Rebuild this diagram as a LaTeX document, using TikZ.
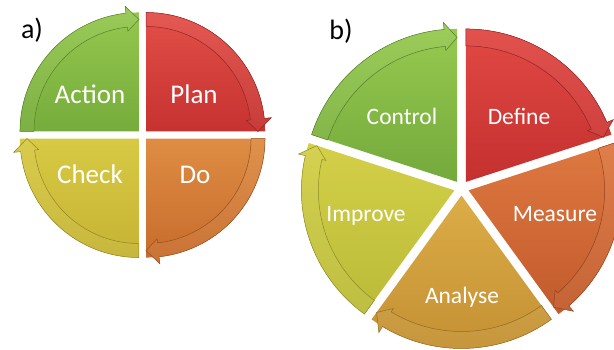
\documentclass[tikz,border=0pt]{standalone}
\usepackage{fontspec}
\setmainfont{Carlito}
\usepackage{tikz}
\usetikzlibrary{calc}

\definecolor{planTop}{HTML}{E5524B}
\definecolor{planBot}{HTML}{C3302E}
\definecolor{doTop}{HTML}{E08F45}
\definecolor{doBot}{HTML}{C66A2B}
\definecolor{checkTop}{HTML}{D9CB45}
\definecolor{checkBot}{HTML}{C4B232}
\definecolor{actTop}{HTML}{96C950}
\definecolor{actBot}{HTML}{74AA3A}
\definecolor{defineTop}{HTML}{E34A45}
\definecolor{defineBot}{HTML}{C22F2E}
\definecolor{measureTop}{HTML}{E07A42}
\definecolor{measureBot}{HTML}{C0592A}
\definecolor{analyseTop}{HTML}{DDAE48}
\definecolor{analyseBot}{HTML}{C38F32}
\definecolor{improveTop}{HTML}{D5D048}
\definecolor{improveBot}{HTML}{B9BA38}
\definecolor{controlTop}{HTML}{98CB51}
\definecolor{controlBot}{HTML}{72A83B}

\tikzset{
    caption/.style={text=black, anchor=base, font=\fontsize{28}{30}\selectfont},
    phase/.style={text=white, anchor=base, font=\fontsize{27}{30}\selectfont},
    phase small/.style={text=white, anchor=base, font=\fontsize{23.5}{26}\selectfont},
    % one vertical gradient per sector, shared by its arrow band
    sector fill/.style={path picture={
        \shade[top color=\ctop, bottom color=\cbot] (-200,\yBot) rectangle (200,\yTop);
        \fill[white, fill opacity=#1] (-200,\yBot) rectangle (200,\yTop);}}
}

\begin{document}
\begin{tikzpicture}[x=1pt, y=1pt]
        \useasboundingbox (0,0) rectangle (614,349);
        \clip (0,0) rectangle (614,349);
        \coordinate (pdca) at (142.5,214);
        \coordinate (dmaic) at (461.5,161);

        % sectors with their clockwise arrow bands
        \foreach \cen/\off/\from/\to/\rad/\band/\ctop/\cbot in {
            pdca/5/90/0/119/14/planTop/planBot,
            pdca/5/0/-90/119/14/doTop/doBot,
            pdca/5/-90/-180/119/14/checkTop/checkBot,
            pdca/5/180/90/119/14/actTop/actBot,
            dmaic/7.5/90/18/153/17/defineTop/defineBot,
            dmaic/7.5/18/-54/153/17/measureTop/measureBot,
            dmaic/7.5/-54/-126/153/17/analyseTop/analyseBot,
            dmaic/7.5/-126/-198/153/17/improveTop/improveBot,
            dmaic/7.5/162/90/153/17/controlTop/controlBot}
        {
            \pgfmathsetmacro\angBis{(\from+\to)/2}
            \pgfmathsetmacro\angHead{\to+750/\rad}
            \pgfmathsetmacro\rIn{\rad-\band}
            \pgfmathsetmacro\rWout{\rad+7}
            \pgfmathsetmacro\rWin{\rad-\band-4}
            \pgfmathsetmacro\rTip{\rad-\band/2}
            \pgfmathsetmacro\yTop{max(0,\rad*sin(\from),\rad*sin(\to),(\from>=90)*(\to<=90)*\rad)+8}
            \pgfmathsetmacro\yBot{min(0,\rad*sin(\from),\rad*sin(\to),-(\from>=-90)*(\to<=-90)*\rad)-8}
            \begin{scope}[shift={($(\cen)+(\angBis:\off)$)}]
                \path[sector fill=0]
                    (0,0) -- (\from:\rad) arc[start angle=\from, end angle=\to, radius=\rad] -- cycle;
                \path[sector fill=0.05, draw=\cbot!75!black, line width=0.5pt]
                    (\from:\rad) arc[start angle=\from, end angle=\angHead, radius=\rad]
                    -- (\angHead:\rWout) -- (\to:\rTip) -- (\angHead:\rWin) -- (\angHead:\rIn)
                    arc[start angle=\angHead, end angle=\from, radius=\rIn] -- cycle;
            \end{scope}
        }

        % a) PDCA
        \node[caption] (capA) at (32,310) {a)};
        \node[phase] (plan) at (194,246) {Plan};
        \node[phase] (do) at (195,166) {Do};
        \node[phase] (check) at (90,166) {Check};
        \node[phase] (action) at (90,246) {Action};

        % b) DMAIC
        \node[caption] (capB) at (341,309) {b)};
        \node[phase small] (define) at (519,225) {Define};
        \node[phase small] (measure) at (555,128) {Measure};
        \node[phase small] (analyse) at (462,46) {Analyse};
        \node[phase small] (improve) at (366,128) {Improve};
        \node[phase small] (control) at (402,225) {Control};
    \end{tikzpicture}
\end{document}
